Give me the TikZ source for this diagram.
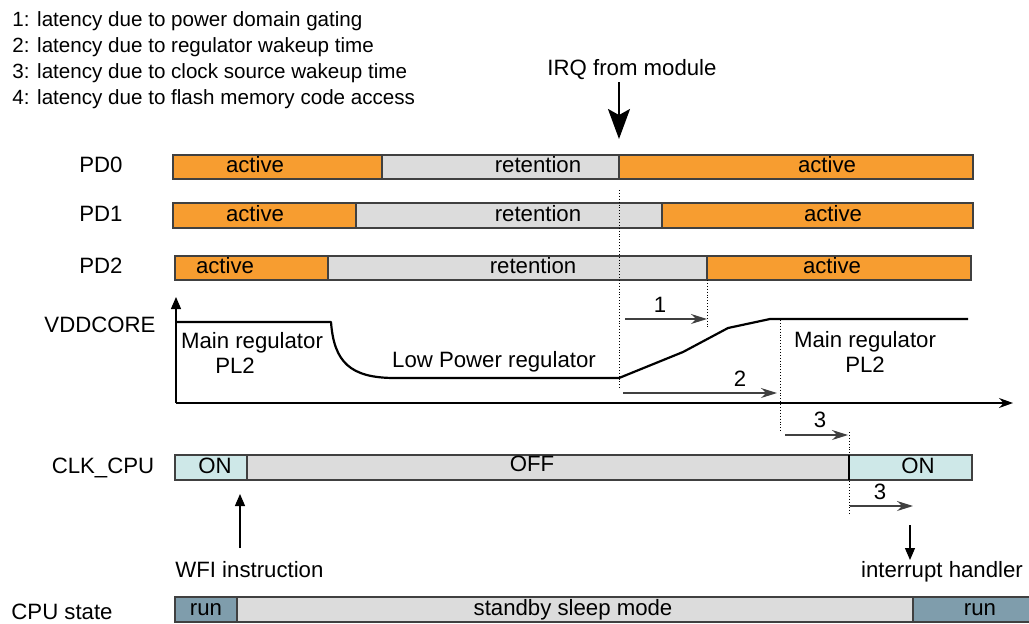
\documentclass[tikz,border=0pt]{standalone}
\usepackage{fontspec}
\setmainfont{Liberation Sans}
\usetikzlibrary{arrows.meta}
\definecolor{activeorange}{RGB}{247,157,48}
\definecolor{retgray}{RGB}{220,220,220}
\definecolor{oncyan}{RGB}{206,232,232}
\definecolor{runblue}{RGB}{127,157,172}
\begin{document}
\begin{tikzpicture}[x=0.5pt,y=-0.5pt]
    % Define styles
    \tikzstyle{txt} = [font=\fontsize{11.1}{13}\selectfont, inner sep=0pt, anchor=base]
    \tikzstyle{legend} = [font=\fontsize{10.3}{12}\selectfont, inner sep=0pt, anchor=base west]
    \tikzstyle{seg} = [draw=black!75, line width=0.7pt]
    \tikzstyle{guide} = [densely dotted, line width=0.45pt]
    \tikzstyle{lat} = [black!75, line width=0.6pt, -{Stealth[length=8pt,width=5pt]}]
    \tikzstyle{axis} = [line width=0.6pt, -{Stealth[length=7pt,width=5pt]}]
    \tikzstyle{vcurve} = [line width=1.1pt, line join=round]
    \tikzstyle{event} = [line width=0.6pt, -{Triangle[length=6pt,width=5pt]}]
    \useasboundingbox (0,0) rectangle (1029,623);

    % Legend
    \node[legend] (leg1) at (12,26) {1: latency due to power domain gating};
    \node[legend] (leg2) at (12,52) {2: latency due to regulator wakeup time};
    \node[legend] (leg3) at (12,78) {3: latency due to clock source wakeup time};
    \node[legend] (leg4) at (12,104) {4: latency due to flash memory code access};

    % IRQ
    \node[txt] (irq) at (632,75) {IRQ from module};
    \coordinate (irqtail) at (619,82);
    \coordinate (irqtip) at (619,139);
    \draw[line width=1pt, -{Stealth[length=15pt,width=11pt,inset=3pt]}] (irqtail) -- (irqtip);

    % Power domains
    \node[txt] (pd0) at (101,172) {PD0};
    \draw[seg, fill=activeorange] (173,155) rectangle (382,179);
    \draw[seg, fill=retgray] (382,155) rectangle (619,179);
    \draw[seg, fill=activeorange] (619,155) rectangle (973,179);
    \node[txt] (pd0a) at (255,172) {active};
    \node[txt] (pd0r) at (538,172) {retention};
    \node[txt] (pd0b) at (827,172) {active};

    \node[txt] (pd1) at (101,221) {PD1};
    \draw[seg, fill=activeorange] (173,203) rectangle (356,228);
    \draw[seg, fill=retgray] (356,203) rectangle (662,228);
    \draw[seg, fill=activeorange] (662,203) rectangle (973,228);
    \node[txt] (pd1a) at (255,221) {active};
    \node[txt] (pd1r) at (538,221) {retention};
    \node[txt] (pd1b) at (833,221) {active};

    \node[txt] (pd2) at (101,273) {PD2};
    \draw[seg, fill=activeorange] (175,256) rectangle (328,280);
    \draw[seg, fill=retgray] (328,256) rectangle (707,280);
    \draw[seg, fill=activeorange] (707,256) rectangle (971,280);
    \node[txt] (pd2a) at (225,273) {active};
    \node[txt] (pd2r) at (533,273) {retention};
    \node[txt] (pd2b) at (832,273) {active};

    % VDDCORE
    \node[txt] (vdd) at (100,332) {VDDCORE};
    \coordinate (origin) at (176,403);
    \draw[axis, -{Triangle[length=6pt,width=5pt]}] (origin) -- (176,297);
    \draw[axis] (origin) -- (1013,403);
    \draw[vcurve] (177,322) -- (331,322) .. controls (334,362) and (350,378) .. (395,378)
        -- (619,378) -- (683,352) -- (728,328) -- (770,319) -- (968,319);
    \node[txt] (mainl) at (252,348) {Main regulator};
    \node[txt] (pl2l) at (235,373) {PL2};
    \node[txt] (lowp) at (494,367) {Low Power regulator};
    \node[txt] (mainr) at (865,347) {Main regulator};
    \node[txt] (pl2r) at (865,372) {PL2};

    % Latency markers
    \draw[guide] (619,190) -- (619,390);
    \draw[guide] (707,280) -- (707,328);
    \draw[guide] (780,320) -- (780,432);
    \draw[guide] (849,432) -- (849,515);
    \coordinate (l1a) at (625,319);
    \coordinate (l1b) at (707,319);
    \draw[lat] (l1a) -- (l1b);
    \node[txt] (n1) at (660,312) {1};
    \coordinate (l2a) at (623,393);
    \coordinate (l2b) at (777,393);
    \draw[lat] (l2a) -- (l2b);
    \node[txt] (n2) at (740,386) {2};
    \coordinate (l3a) at (785,435);
    \coordinate (l3b) at (848,435);
    \draw[lat] (l3a) -- (l3b);
    \node[txt] (n3) at (820,427) {3};
    \coordinate (l4a) at (850,506);
    \coordinate (l4b) at (913,506);
    \draw[lat] (l4a) -- (l4b);
    \node[txt] (n4) at (880,499) {3};

    % CLK_CPU
    \node[txt] (clk) at (103,473) {CLK\_CPU};
    \draw[seg, fill=oncyan] (175,455) rectangle (247,480);
    \draw[seg, fill=retgray] (247,455) rectangle (849,480);
    \draw[seg, fill=oncyan] (849,455) rectangle (972,480);
    \draw[line width=1.1pt] (849,455) -- (849,480);
    \node[txt] (clkon) at (215,473) {ON};
    \node[txt] (clkoff) at (532,471) {OFF};
    \node[txt] (clkon2) at (918,473) {ON};

    % Events
    \node[txt, anchor=base west] (wfi) at (175,577) {WFI instruction};
    \coordinate (wfitail) at (240,548);
    \coordinate (wfitip) at (240,494);
    \draw[event] (wfitail) -- (wfitip);
    \node[txt] (irqh) at (942,577) {interrupt handler};
    \coordinate (irqhtail) at (910,525);
    \coordinate (irqhtip) at (910,560);
    \draw[event] (irqhtail) -- (irqhtip);

    % CPU state
    \node[txt] (cpu) at (62,619) {CPU state};
    \draw[seg, fill=runblue] (175,597) rectangle (237,622);
    \draw[seg, fill=retgray] (237,597) rectangle (913,622);
    \draw[seg, fill=runblue] (913,597) rectangle (1035,622);
    \node[txt] (run1) at (206,615) {run};
    \node[txt] (stby) at (573,615) {standby sleep mode};
    \node[txt] (run2) at (980,615) {run};
\end{tikzpicture}
\end{document}
